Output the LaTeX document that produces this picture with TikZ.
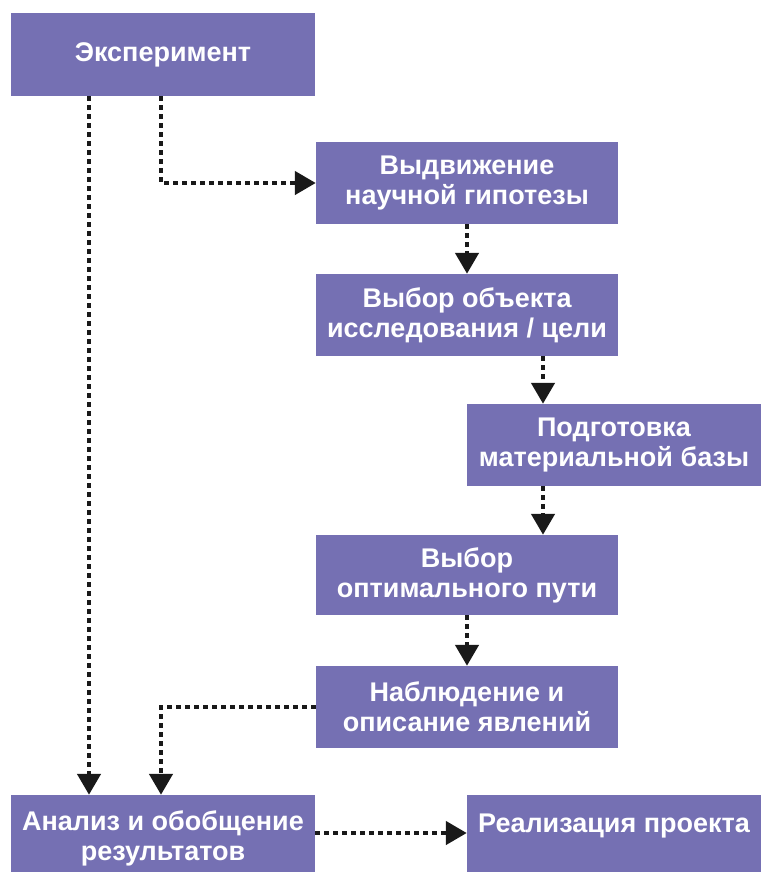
\documentclass[tikz,border=0pt]{standalone}
\usepackage{fontspec}
\setmainfont{Liberation Sans}
\usetikzlibrary{arrows.meta}
\definecolor{boxc}{RGB}{117,112,179}
\begin{document}
\begin{tikzpicture}[x=1pt,y=1pt,
  box/.style={fill=boxc, draw=none, text=white, align=center, inner sep=0pt,
    font=\fontsize{27}{30}\selectfont\bfseries},
  arr/.style={draw=black!90, line width=4.5pt, dash pattern=on 4.5pt off 4.5pt,
    -{Triangle[length=21pt,width=23pt]}}]
\useasboundingbox (0,0) rectangle (761,-872);
\node[box, minimum width=304pt, minimum height=83pt] (e) at (163,-54.5) {Эксперимент};
\node[box, minimum width=302pt, minimum height=82pt] (h) at (467,-183) {Выдвижение\\научной гипотезы};
\node[box, minimum width=302pt, minimum height=82pt] (o) at (467,-315) {Выбор объекта\\исследования / цели};
\node[box, minimum width=294pt, minimum height=82pt] (m) at (614,-445) {Подготовка\\материальной базы};
\node[box, minimum width=302pt, minimum height=80pt] (p) at (467,-575) {Выбор\\оптимального пути};
\node[box, minimum width=302pt, minimum height=82pt] (n) at (467,-707) {Наблюдение и\\описание явлений};
\node[box, minimum width=304pt, minimum height=86pt] (an) at (163,-838) {Анализ и обобщение\\результатов};
\node[box, minimum width=294pt, minimum height=86pt] (r) at (614,-838) {Реализация проекта\\~};
\coordinate (cL) at (89,0);
\coordinate (cR) at (161,0);
\coordinate (cM) at (543,0);
\coordinate (cH) at (0,-833);
\draw[arr] (e.south -| cL) -- (an.north -| cL);
\draw[arr] (e.south -| cR) |- (h.west);
\draw[arr] (h.south) -- (o.north);
\draw[arr] (o.south -| cM) -- (m.north -| cM);
\draw[arr] (m.south -| cM) -- (p.north -| cM);
\draw[arr] (p.south) -- (n.north);
\draw[arr] (n.west) -| (an.north -| cR);
\draw[arr] (an.east |- cH) -- (r.west |- cH);
\end{tikzpicture}
\end{document}
